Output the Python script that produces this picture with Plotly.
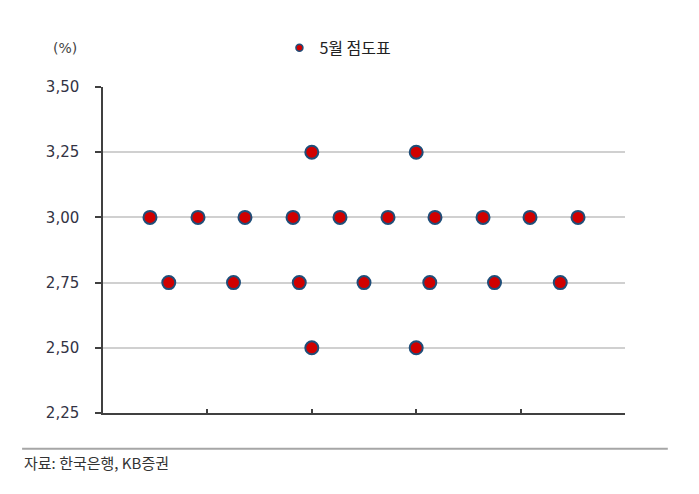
import plotly.graph_objects as go

# Data (x in axis units 0..5)
x_300 = [0.45, 0.91, 1.36, 1.82, 2.27, 2.73, 3.18, 3.64, 4.09, 4.55]
y_300 = [3.00] * 10
x_275 = [0.63, 1.25, 1.88, 2.50, 3.13, 3.75, 4.38]
y_275 = [2.75] * 7
x_325 = [2.0, 3.0]
y_325 = [3.25, 3.25]
x_250 = [2.0, 3.0]
y_250 = [2.50, 2.50]

series_name = "5월 점도표"
y_ticks = [2.25, 2.50, 2.75, 3.00, 3.25, 3.50]
x_ticks = [0, 1, 2, 3, 4, 5]

xs = x_325 + x_300 + x_275 + x_250
ys = y_325 + y_300 + y_275 + y_250

FONT = "Noto Sans CJK KR"
NUMFONT = "DejaVu Sans"
RED = "#d00000"
EDGE = "#1f4e79"

fig = go.Figure()
fig.add_trace(go.Scatter(
    x=xs, y=ys, mode="markers", name=series_name, showlegend=False,
    marker=dict(size=13, color=RED, line=dict(color=EDGE, width=2)),
))
# legend entry (smaller symbol as in the reference)
fig.add_trace(go.Scatter(
    x=[None], y=[None], mode="markers", name=series_name, showlegend=True,
    marker=dict(size=7, color=RED, line=dict(color=EDGE, width=1.5)),
))

fig.update_layout(
    width=691, height=486,
    margin=dict(l=95, r=74, t=79, b=81),
    paper_bgcolor="white", plot_bgcolor="white",
    separators=",.",
    font=dict(family=FONT, size=14, color="#333333"),
    showlegend=True,
    legend=dict(
        orientation="h", x=0.338, y=1.12, xanchor="left", yanchor="middle",
        font=dict(family=FONT, size=16, color="#222222"),
        bgcolor="rgba(0,0,0,0)", itemwidth=30,
    ),
    xaxis=dict(
        range=[0, 5], tickvals=x_ticks, showticklabels=False,
        showgrid=False, zeroline=False,
        showline=True, linecolor="#404040", linewidth=1.5,
        ticks="inside", ticklen=4, tickcolor="#404040", tickwidth=1.5,
    ),
    yaxis=dict(
        range=[2.25, 3.50], tickvals=y_ticks, tickformat=".2f",
        showgrid=True, gridcolor="#d0d0d0", gridwidth=1.5, zeroline=False,
        showline=True, linecolor="#404040", linewidth=1.5,
        ticks="outside", ticklen=6, tickcolor="#404040", tickwidth=1.5,
        ticklabelstandoff=13,
        tickfont=dict(family=NUMFONT, size=15, color="#333344"),
    ),
    annotations=[
        dict(text="(%)", xref="paper", yref="paper", x=-0.073, y=1.12,
             xanchor="center", yanchor="middle", showarrow=False,
             font=dict(family=NUMFONT, size=14, color="#444444")),
        dict(text="자료: 한국은행, KB증권", xref="paper", yref="paper",
             x=-0.155, y=-0.153, xanchor="left", yanchor="middle",
             showarrow=False, font=dict(family=FONT, size=15, color="#333333")),
    ],
    shapes=[
        dict(type="line", xref="paper", yref="paper", x0=-0.155, x1=1.082,
             y0=-0.110, y1=-0.110, line=dict(color="#a6a6a6", width=2)),
    ],
)

fig.write_html("out.html")
